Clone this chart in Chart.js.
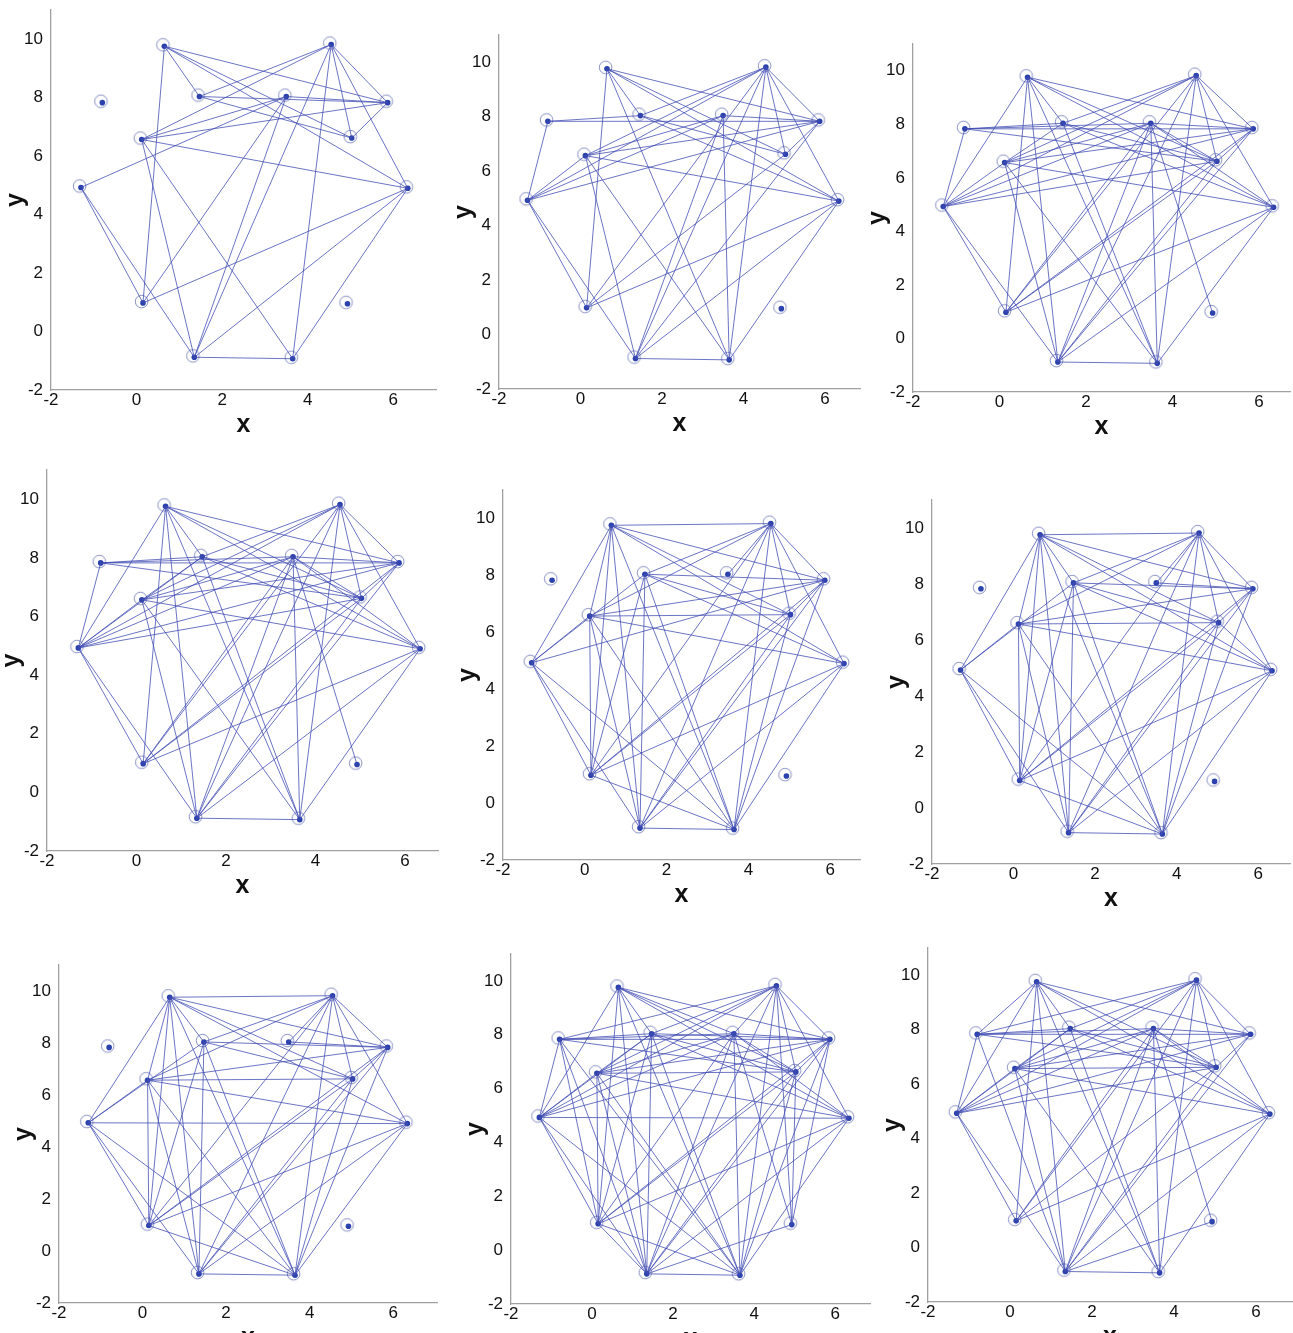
<!DOCTYPE html>
<html>
<head>
<meta charset="utf-8">
<script src="https://cdn.jsdelivr.net/npm/chart.js@4.4.0/dist/chart.umd.min.js"></script>
<style>
  html, body { margin: 0; padding: 0; background: #fff; }
  #page { position: relative; width: 1293px; height: 1333px; overflow: hidden; }
  .panel { position: absolute; }
</style>
</head>
<body>
<div id="page"></div>
<script>
// Node positions (same layout in every panel)
const nodeNames = ['A', 'B', 'C', 'D', 'E', 'F', 'G', 'H', 'I', 'J', 'K', 'L', 'M', 'N'];
const nodeX = [-1.3, -0.8, 0.12, 0.15, 0.65, 1.47, 1.35, 3.5, 3.65, 4.55, 5.03, 4.93, 5.87, 6.34];
const nodeY = [4.93, 7.83, 6.57, 0.98, 9.76, 8.04, -0.88, 8.04, -0.93, 9.82, 6.62, 0.95, 7.83, 4.9];

const xTicks = [-2, 0, 2, 4, 6];
const yTicks = [-2, 0, 2, 4, 6, 8, 10];

// Edge lists, one per panel (pairs of node names)
const edges1 = ['EF', 'ED', 'EM', 'EK', 'EN', 'CG', 'JF', 'JC', 'JG', 'JI', 'JK', 'JM', 'JN',
  'HC', 'HM', 'HG', 'HA', 'FM', 'FK', 'CN', 'CI', 'AD', 'AG', 'DN', 'DH', 'GI', 'GN', 'IN', 'KM', 'CM'];
const edges2 = ['AB', 'AD', 'AG', 'AC', 'AH', 'AM', 'AJ', 'BF', 'BM',
  'ED', 'EF', 'EI', 'EK', 'EM', 'EN', 'JC', 'JF', 'JD', 'JG', 'JI', 'JK', 'JM', 'JN',
  'HI', 'HG', 'HC', 'HM', 'CN', 'CI', 'CG', 'CM', 'DN', 'DK', 'FK', 'FN', 'GI', 'GN', 'GM', 'IN', 'KM'];
const edges3 = ['AB', 'AE', 'AD', 'AG', 'AC', 'AH', 'AM', 'AK', 'AJ', 'BF', 'BH', 'BM', 'BK',
  'ED', 'EF', 'EG', 'EI', 'EK', 'EM', 'EN', 'JC', 'JF', 'JD', 'JG', 'JI', 'JK', 'JM', 'JN',
  'HI', 'HG', 'HD', 'HC', 'HM', 'HK', 'HL', 'HN', 'CN', 'CI', 'CG', 'CM', 'CF',
  'DN', 'DK', 'DM', 'FK', 'FN', 'FI', 'GI', 'GN', 'GM', 'GK', 'IN', 'KM'];
const edges4 = ['AB', 'AE', 'AD', 'AG', 'AC', 'AF', 'AH', 'AM', 'AK', 'AJ', 'BF', 'BH', 'BM', 'BK',
  'ED', 'EF', 'EG', 'EI', 'EK', 'EM', 'EN', 'JC', 'JF', 'JD', 'JG', 'JI', 'JK', 'JM', 'JN',
  'HI', 'HG', 'HD', 'HC', 'HM', 'HK', 'HL', 'HN', 'CN', 'CI', 'CG', 'CM', 'CF',
  'DN', 'DK', 'DM', 'FK', 'FN', 'FI', 'GI', 'GN', 'GM', 'GK', 'IN', 'KM'];
const edges5 = ['EJ', 'EA', 'EC', 'ED', 'EG', 'EI', 'EK', 'EM', 'EN',
  'JC', 'JF', 'JH', 'JG', 'JI', 'JD', 'JK', 'JM', 'JN', 'AC', 'AF', 'AD', 'AG', 'AI', 'AM',
  'CK', 'CM', 'CN', 'CD', 'CG', 'CI', 'DF', 'DK', 'DM', 'DN', 'DI',
  'GF', 'GK', 'GM', 'GN', 'GI', 'IF', 'IM', 'IN', 'IK', 'FM', 'FK', 'FN', 'KM'];
const edges6 = ['EJ', 'EA', 'EC', 'ED', 'EG', 'EI', 'EK', 'EM', 'EN', 'EF',
  'JC', 'JF', 'JH', 'JD', 'JG', 'JI', 'JK', 'JM', 'JN', 'AC', 'AF', 'AD', 'AG', 'AI',
  'CK', 'CM', 'CN', 'CD', 'CG', 'CI', 'DF', 'DK', 'DM', 'DN', 'DI',
  'GF', 'GK', 'GM', 'GN', 'GI', 'IF', 'IM', 'IN', 'IK', 'FM', 'FK', 'FN', 'HM', 'KM', 'KN'];
const edges7 = ['EJ', 'EA', 'EC', 'ED', 'EG', 'EI', 'EK', 'EM', 'EN', 'EF',
  'JC', 'JF', 'JH', 'JD', 'JG', 'JI', 'JK', 'JM', 'JN', 'AC', 'AF', 'AD', 'AG', 'AI', 'AN',
  'CK', 'CM', 'CN', 'CD', 'CG', 'CI', 'DF', 'DK', 'DM', 'DN', 'DI',
  'GF', 'GK', 'GM', 'GN', 'GI', 'IF', 'IM', 'IN', 'IK', 'FM', 'FK', 'HM', 'KM'];
const edges8 = ['AB', 'AC', 'AD', 'AE', 'AF', 'AG', 'AH', 'AI', 'AJ', 'AM', 'AN',
  'BF', 'BH', 'BM', 'BK', 'BD', 'BG', 'BI', 'BJ',
  'CF', 'CH', 'CJ', 'CK', 'CM', 'CN', 'CG', 'CI', 'CD',
  'DE', 'DF', 'DH', 'DK', 'DM', 'DN', 'DI', 'DG',
  'EG', 'EI', 'EK', 'EM', 'EN', 'EF', 'EH',
  'FG', 'FI', 'FK', 'FM', 'FN', 'FJ',
  'GH', 'GI', 'GJ', 'GK', 'GM', 'GN', 'GL',
  'HI', 'HJ', 'HK', 'HM', 'HN', 'HL', 'IJ', 'IM', 'IN', 'IK', 'JK', 'JM', 'JN', 'JL', 'KM', 'KL', 'LM'];
const edges9 = ['AB', 'AE', 'AD', 'AG', 'AC', 'AF', 'AH', 'AM', 'AK', 'AJ',
  'BF', 'BH', 'BM', 'BK', 'BG', 'BE',
  'ED', 'EF', 'EG', 'EI', 'EK', 'EM', 'EN', 'JC', 'JF', 'JD', 'JG', 'JI', 'JK', 'JM', 'JN', 'JB',
  'HI', 'HG', 'HD', 'HC', 'HM', 'HK', 'HL', 'HN', 'CN', 'CI', 'CG', 'CM', 'CF', 'CK',
  'DN', 'DK', 'FK', 'FN', 'FI', 'GI', 'GN', 'GM', 'GK', 'GL', 'IN', 'KM'];

const panelEdges = [edges1, edges2, edges3, edges4, edges5, edges6, edges7, edges8, edges9];

// Plot-area boxes on the page: [left, top, right, bottom] and the x-axis end value
const panelBoxes = [
  [51, 10, 436, 390], [499, 35, 860, 389], [913, 44, 1290, 392],
  [47, 470, 438, 851], [503, 490, 860, 860], [932, 500, 1290, 864],
  [59, 965, 437, 1303], [511, 954, 870, 1304], [928, 948, 1292, 1302]
];
const panelXMax = [7.0, 6.86, 6.72, 6.74, 6.73, 6.78, 7.05, 6.86, 6.88];

const EDGE_COLOR = 'rgba(62, 74, 178, 0.85)';
const DOT_COLOR = '#2b42ad';
const AXIS_COLOR = '#a0a0a0';
const FONT = 'Liberation Sans, Arial, sans-serif';

const Y_AXIS_W = 50;
const X_AXIS_H = 50;
const PAD_TOP = 6;
const PAD_RIGHT = 4;

// open ring drawn slightly up-left of the node
function makeRing() {
  const c = document.createElement('canvas');
  c.width = 20;
  c.height = 20;
  const g = c.getContext('2d');
  g.strokeStyle = '#7d84bd';
  g.lineWidth = 0.9;
  g.beginPath();
  g.arc(8.6, 8.6, 6.3, 0, Math.PI * 2);
  g.stroke();
  return c;
}
const ringImg = makeRing();

function nodePoint(name) {
  const i = nodeNames.indexOf(name);
  return { x: nodeX[i], y: nodeY[i] };
}

function buildPanel(idx) {
  const box = panelBoxes[idx];
  const wrap = document.createElement('div');
  wrap.className = 'panel';
  const w = box[2] - box[0] + Y_AXIS_W + PAD_RIGHT;
  const h = box[3] - box[1] + PAD_TOP + X_AXIS_H;
  wrap.style.left = (box[0] - Y_AXIS_W) + 'px';
  wrap.style.top = (box[1] - PAD_TOP) + 'px';
  wrap.style.width = w + 'px';
  wrap.style.height = h + 'px';
  const canvas = document.createElement('canvas');
  canvas.width = w;
  canvas.height = h;
  wrap.appendChild(canvas);
  document.getElementById('page').appendChild(wrap);

  const datasets = panelEdges[idx].map(pair => ({
    data: [nodePoint(pair[0]), nodePoint(pair[1])],
    showLine: true,
    borderColor: EDGE_COLOR,
    borderWidth: 0.9,
    pointRadius: 0
  }));
  const allNodes = nodeNames.map(n => nodePoint(n));
  datasets.push({
    data: allNodes,
    pointStyle: ringImg,
    pointRadius: 10
  });
  datasets.push({
    data: allNodes,
    pointStyle: 'circle',
    pointRadius: 2.8,
    backgroundColor: DOT_COLOR,
    borderColor: DOT_COLOR,
    borderWidth: 0
  });

  const tickFont = { family: FONT, size: 17 };
  const titleFont = { family: FONT, size: 25, weight: 'bold' };

  return new Chart(canvas.getContext('2d'), {
    type: 'scatter',
    data: { datasets },
    options: {
      responsive: false,
      animation: false,
      events: [],
      layout: { autoPadding: false, padding: { top: PAD_TOP, right: PAD_RIGHT, left: 0, bottom: 0 } },
      plugins: { legend: { display: false }, tooltip: { enabled: false } },
      scales: {
        x: {
          type: 'linear',
          min: -2,
          max: panelXMax[idx],
          grid: { display: false, drawTicks: false },
          border: { display: true, color: AXIS_COLOR, width: 1.3 },
          ticks: { font: tickFont, color: '#111', padding: 0 },
          title: { display: true, text: 'x', font: titleFont, color: '#111', padding: { top: -5, bottom: 0 } },
          afterBuildTicks: s => { s.ticks = xTicks.map(v => ({ value: v })); },
          afterFit: s => { s.height = X_AXIS_H; s.paddingLeft = 0; s.paddingRight = 0; }
        },
        y: {
          type: 'linear',
          min: -2,
          max: 11,
          grid: { display: false, drawTicks: false },
          border: { display: true, color: AXIS_COLOR, width: 1.3 },
          ticks: { font: tickFont, color: '#111', padding: 8 },
          title: { display: true, text: 'y', font: titleFont, color: '#111', padding: { top: 0, bottom: 0 } },
          afterBuildTicks: s => { s.ticks = yTicks.map(v => ({ value: v })); },
          afterFit: s => { s.width = Y_AXIS_W; s.paddingTop = 0; s.paddingBottom = 0; }
        }
      }
    }
  });
}

for (let i = 0; i < panelBoxes.length; i++) {
  buildPanel(i);
}
</script>
</body>
</html>
